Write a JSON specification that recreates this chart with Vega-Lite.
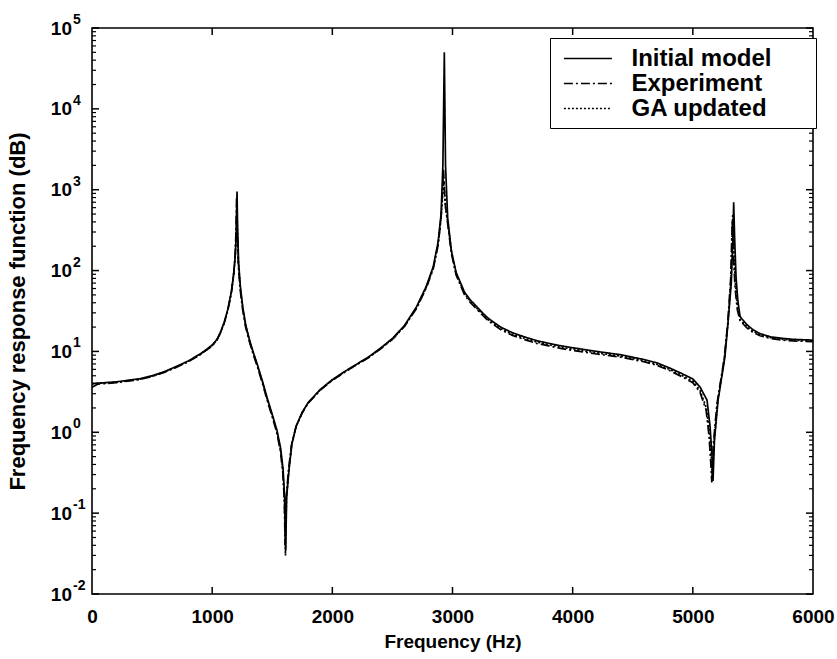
{
"$schema": "https://vega.github.io/schema/vega-lite/v6.json",
"width": 721, "height": 566,
"autosize": {"type": "none"},
"padding": {"left": 92, "top": 28, "right": 24, "bottom": 65},
"config": {"view": {"stroke": "black", "strokeWidth": 1.6}, "font": "Liberation Sans",
  "axis": {"grid": false, "domain": false, "ticks": false, "tickSize": 0, "labelColor": "black", "titleColor": "black", "labelFont": "Liberation Sans", "titleFont": "Liberation Sans", "labelFontWeight": "bold", "titleFontWeight": "bold", "labelFontSize": 19, "titleFontSize": 19, "titleLimit": 1000, "labelOverlap": false}},
"data": {"values": [
{"s":"Initial model","f":0,"v":4.0},{"s":"Initial model","f":200,"v":4.2},{"s":"Initial model","f":400,"v":4.6},{"s":"Initial model","f":500,"v":5.0},{"s":"Initial model","f":600,"v":5.6},{"s":"Initial model","f":700,"v":6.5},{"s":"Initial model","f":800,"v":7.6},{"s":"Initial model","f":900,"v":9.3},{"s":"Initial model","f":950,"v":10.5},{"s":"Initial model","f":1000,"v":12},{"s":"Initial model","f":1040,"v":14.1},{"s":"Initial model","f":1070,"v":17.4},{"s":"Initial model","f":1100,"v":22.9},{"s":"Initial model","f":1130,"v":33},{"s":"Initial model","f":1160,"v":55},{"s":"Initial model","f":1180,"v":93},{"s":"Initial model","f":1193,"v":158},{"s":"Initial model","f":1201,"v":316},{"s":"Initial model","f":1207,"v":950},{"s":"Initial model","f":1212,"v":316},{"s":"Initial model","f":1220,"v":126},{"s":"Initial model","f":1235,"v":63},{"s":"Initial model","f":1255,"v":35},{"s":"Initial model","f":1280,"v":21},{"s":"Initial model","f":1310,"v":14},{"s":"Initial model","f":1340,"v":10},{"s":"Initial model","f":1380,"v":6.6},{"s":"Initial model","f":1420,"v":4.2},{"s":"Initial model","f":1460,"v":2.6},{"s":"Initial model","f":1500,"v":1.66},{"s":"Initial model","f":1540,"v":1.05},{"s":"Initial model","f":1570,"v":0.63},{"s":"Initial model","f":1590,"v":0.35},{"s":"Initial model","f":1603,"v":0.16},{"s":"Initial model","f":1612,"v":0.035},{"s":"Initial model","f":1620,"v":0.16},{"s":"Initial model","f":1640,"v":0.35},{"s":"Initial model","f":1664,"v":0.72},{"s":"Initial model","f":1700,"v":1.2},{"s":"Initial model","f":1750,"v":1.78},{"s":"Initial model","f":1800,"v":2.34},{"s":"Initial model","f":1900,"v":3.39},{"s":"Initial model","f":2000,"v":4.47},{"s":"Initial model","f":2100,"v":5.62},{"s":"Initial model","f":2200,"v":6.92},{"s":"Initial model","f":2300,"v":8.51},{"s":"Initial model","f":2400,"v":10.96},{"s":"Initial model","f":2500,"v":14.45},{"s":"Initial model","f":2600,"v":20.9},{"s":"Initial model","f":2700,"v":35.5},{"s":"Initial model","f":2780,"v":63},{"s":"Initial model","f":2840,"v":112},{"s":"Initial model","f":2880,"v":224},{"s":"Initial model","f":2905,"v":501},{"s":"Initial model","f":2920,"v":2000},{"s":"Initial model","f":2932,"v":50000},{"s":"Initial model","f":2942,"v":2000},{"s":"Initial model","f":2960,"v":447},{"s":"Initial model","f":2990,"v":178},{"s":"Initial model","f":3030,"v":95},{"s":"Initial model","f":3100,"v":54},{"s":"Initial model","f":3150,"v":43},{"s":"Initial model","f":3200,"v":36},{"s":"Initial model","f":3250,"v":30},{"s":"Initial model","f":3300,"v":25.5},{"s":"Initial model","f":3400,"v":20},{"s":"Initial model","f":3500,"v":17},{"s":"Initial model","f":3600,"v":15.1},{"s":"Initial model","f":3700,"v":13.6},{"s":"Initial model","f":3800,"v":12.6},{"s":"Initial model","f":3900,"v":11.75},{"s":"Initial model","f":4000,"v":11.1},{"s":"Initial model","f":4200,"v":10},{"s":"Initial model","f":4400,"v":9.1},{"s":"Initial model","f":4600,"v":7.9},{"s":"Initial model","f":4700,"v":7.24},{"s":"Initial model","f":4800,"v":6.3},{"s":"Initial model","f":4900,"v":5.4},{"s":"Initial model","f":5000,"v":4.57},{"s":"Initial model","f":5060,"v":3.63},{"s":"Initial model","f":5118,"v":2.5},{"s":"Initial model","f":5143,"v":1.2},{"s":"Initial model","f":5160,"v":0.5},{"s":"Initial model","f":5168,"v":0.25},{"s":"Initial model","f":5180,"v":0.8},{"s":"Initial model","f":5210,"v":2.5},{"s":"Initial model","f":5267,"v":8.5},{"s":"Initial model","f":5292,"v":22},{"s":"Initial model","f":5320,"v":70},{"s":"Initial model","f":5333,"v":250},{"s":"Initial model","f":5340,"v":700},{"s":"Initial model","f":5348,"v":250},{"s":"Initial model","f":5360,"v":80},{"s":"Initial model","f":5375,"v":42},{"s":"Initial model","f":5393,"v":27},{"s":"Initial model","f":5450,"v":21.4},{"s":"Initial model","f":5500,"v":18.6},{"s":"Initial model","f":5559,"v":16.6},{"s":"Initial model","f":5650,"v":15.1},{"s":"Initial model","f":5750,"v":14.5},{"s":"Initial model","f":5834,"v":14.1},{"s":"Initial model","f":6000,"v":13.8},
{"s":"Experiment","f":0,"v":3.6},{"s":"Experiment","f":50,"v":3.95},{"s":"Experiment","f":200,"v":4.1},{"s":"Experiment","f":400,"v":4.5},{"s":"Experiment","f":500,"v":4.9},{"s":"Experiment","f":600,"v":5.5},{"s":"Experiment","f":700,"v":6.35},{"s":"Experiment","f":800,"v":7.45},{"s":"Experiment","f":900,"v":9.1},{"s":"Experiment","f":950,"v":10.3},{"s":"Experiment","f":1000,"v":11.7},{"s":"Experiment","f":1040,"v":13.8},{"s":"Experiment","f":1070,"v":17},{"s":"Experiment","f":1100,"v":22.4},{"s":"Experiment","f":1130,"v":32},{"s":"Experiment","f":1160,"v":53},{"s":"Experiment","f":1178,"v":88},{"s":"Experiment","f":1191,"v":150},{"s":"Experiment","f":1198,"v":300},{"s":"Experiment","f":1203,"v":800},{"s":"Experiment","f":1209,"v":300},{"s":"Experiment","f":1217,"v":120},{"s":"Experiment","f":1232,"v":60},{"s":"Experiment","f":1252,"v":34},{"s":"Experiment","f":1277,"v":20.5},{"s":"Experiment","f":1307,"v":13.6},{"s":"Experiment","f":1337,"v":9.7},{"s":"Experiment","f":1377,"v":6.4},{"s":"Experiment","f":1417,"v":4.1},{"s":"Experiment","f":1457,"v":2.5},{"s":"Experiment","f":1497,"v":1.6},{"s":"Experiment","f":1537,"v":1.0},{"s":"Experiment","f":1567,"v":0.6},{"s":"Experiment","f":1587,"v":0.33},{"s":"Experiment","f":1600,"v":0.15},{"s":"Experiment","f":1607,"v":0.04},{"s":"Experiment","f":1615,"v":0.15},{"s":"Experiment","f":1635,"v":0.34},{"s":"Experiment","f":1660,"v":0.7},{"s":"Experiment","f":1697,"v":1.17},{"s":"Experiment","f":1750,"v":1.74},{"s":"Experiment","f":1800,"v":2.3},{"s":"Experiment","f":1900,"v":3.32},{"s":"Experiment","f":2000,"v":4.38},{"s":"Experiment","f":2100,"v":5.5},{"s":"Experiment","f":2200,"v":6.8},{"s":"Experiment","f":2300,"v":8.35},{"s":"Experiment","f":2400,"v":10.7},{"s":"Experiment","f":2500,"v":14.1},{"s":"Experiment","f":2600,"v":20.3},{"s":"Experiment","f":2700,"v":34},{"s":"Experiment","f":2780,"v":60},{"s":"Experiment","f":2840,"v":105},{"s":"Experiment","f":2880,"v":205},{"s":"Experiment","f":2905,"v":440},{"s":"Experiment","f":2925,"v":1800},{"s":"Experiment","f":2938,"v":700},{"s":"Experiment","f":2958,"v":400},{"s":"Experiment","f":2990,"v":165},{"s":"Experiment","f":3030,"v":88},{"s":"Experiment","f":3100,"v":50},{"s":"Experiment","f":3150,"v":40},{"s":"Experiment","f":3200,"v":33.5},{"s":"Experiment","f":3250,"v":28},{"s":"Experiment","f":3300,"v":23.8},{"s":"Experiment","f":3400,"v":18.6},{"s":"Experiment","f":3500,"v":15.8},{"s":"Experiment","f":3600,"v":14.0},{"s":"Experiment","f":3700,"v":12.6},{"s":"Experiment","f":3800,"v":11.7},{"s":"Experiment","f":3900,"v":10.9},{"s":"Experiment","f":4000,"v":10.3},{"s":"Experiment","f":4200,"v":9.3},{"s":"Experiment","f":4400,"v":8.5},{"s":"Experiment","f":4600,"v":7.4},{"s":"Experiment","f":4700,"v":6.75},{"s":"Experiment","f":4800,"v":5.85},{"s":"Experiment","f":4900,"v":4.95},{"s":"Experiment","f":5000,"v":4.1},{"s":"Experiment","f":5060,"v":3.1},{"s":"Experiment","f":5110,"v":1.9},{"s":"Experiment","f":5135,"v":0.9},{"s":"Experiment","f":5150,"v":0.4},{"s":"Experiment","f":5158,"v":0.24},{"s":"Experiment","f":5170,"v":0.7},{"s":"Experiment","f":5200,"v":2.2},{"s":"Experiment","f":5260,"v":8},{"s":"Experiment","f":5290,"v":22},{"s":"Experiment","f":5315,"v":80},{"s":"Experiment","f":5328,"v":420},{"s":"Experiment","f":5338,"v":150},{"s":"Experiment","f":5352,"v":60},{"s":"Experiment","f":5370,"v":33},{"s":"Experiment","f":5393,"v":24},{"s":"Experiment","f":5450,"v":19.5},{"s":"Experiment","f":5500,"v":17.2},{"s":"Experiment","f":5559,"v":15.6},{"s":"Experiment","f":5650,"v":14.4},{"s":"Experiment","f":5750,"v":13.8},{"s":"Experiment","f":5834,"v":13.5},{"s":"Experiment","f":6000,"v":13.2},
{"s":"GA updated","f":0,"v":4.0},{"s":"GA updated","f":200,"v":4.15},{"s":"GA updated","f":400,"v":4.55},{"s":"GA updated","f":500,"v":4.95},{"s":"GA updated","f":600,"v":5.55},{"s":"GA updated","f":700,"v":6.4},{"s":"GA updated","f":800,"v":7.5},{"s":"GA updated","f":900,"v":9.2},{"s":"GA updated","f":950,"v":10.4},{"s":"GA updated","f":1000,"v":11.8},{"s":"GA updated","f":1040,"v":13.9},{"s":"GA updated","f":1070,"v":17.2},{"s":"GA updated","f":1100,"v":22.6},{"s":"GA updated","f":1130,"v":32.5},{"s":"GA updated","f":1160,"v":54},{"s":"GA updated","f":1179,"v":90},{"s":"GA updated","f":1192,"v":152},{"s":"GA updated","f":1200,"v":300},{"s":"GA updated","f":1205,"v":600},{"s":"GA updated","f":1211,"v":300},{"s":"GA updated","f":1219,"v":120},{"s":"GA updated","f":1234,"v":61},{"s":"GA updated","f":1254,"v":34.5},{"s":"GA updated","f":1279,"v":20.7},{"s":"GA updated","f":1309,"v":13.8},{"s":"GA updated","f":1339,"v":9.8},{"s":"GA updated","f":1379,"v":6.5},{"s":"GA updated","f":1419,"v":4.15},{"s":"GA updated","f":1459,"v":2.55},{"s":"GA updated","f":1499,"v":1.62},{"s":"GA updated","f":1539,"v":1.02},{"s":"GA updated","f":1569,"v":0.6},{"s":"GA updated","f":1589,"v":0.33},{"s":"GA updated","f":1602,"v":0.14},{"s":"GA updated","f":1610,"v":0.03},{"s":"GA updated","f":1618,"v":0.15},{"s":"GA updated","f":1638,"v":0.34},{"s":"GA updated","f":1662,"v":0.71},{"s":"GA updated","f":1699,"v":1.18},{"s":"GA updated","f":1750,"v":1.76},{"s":"GA updated","f":1800,"v":2.32},{"s":"GA updated","f":1900,"v":3.35},{"s":"GA updated","f":2000,"v":4.42},{"s":"GA updated","f":2100,"v":5.55},{"s":"GA updated","f":2200,"v":6.85},{"s":"GA updated","f":2300,"v":8.4},{"s":"GA updated","f":2400,"v":10.8},{"s":"GA updated","f":2500,"v":14.2},{"s":"GA updated","f":2600,"v":20.5},{"s":"GA updated","f":2700,"v":34.5},{"s":"GA updated","f":2780,"v":61},{"s":"GA updated","f":2840,"v":108},{"s":"GA updated","f":2880,"v":212},{"s":"GA updated","f":2905,"v":460},{"s":"GA updated","f":2928,"v":1300},{"s":"GA updated","f":2942,"v":600},{"s":"GA updated","f":2962,"v":380},{"s":"GA updated","f":2992,"v":170},{"s":"GA updated","f":3030,"v":91},{"s":"GA updated","f":3100,"v":52},{"s":"GA updated","f":3150,"v":41.5},{"s":"GA updated","f":3200,"v":34.5},{"s":"GA updated","f":3250,"v":29},{"s":"GA updated","f":3300,"v":24.5},{"s":"GA updated","f":3400,"v":19.2},{"s":"GA updated","f":3500,"v":16.3},{"s":"GA updated","f":3600,"v":14.5},{"s":"GA updated","f":3700,"v":13.1},{"s":"GA updated","f":3800,"v":12.1},{"s":"GA updated","f":3900,"v":11.3},{"s":"GA updated","f":4000,"v":10.7},{"s":"GA updated","f":4200,"v":9.6},{"s":"GA updated","f":4400,"v":8.75},{"s":"GA updated","f":4600,"v":7.6},{"s":"GA updated","f":4700,"v":6.95},{"s":"GA updated","f":4800,"v":6.05},{"s":"GA updated","f":4900,"v":5.15},{"s":"GA updated","f":5000,"v":4.3},{"s":"GA updated","f":5060,"v":3.3},{"s":"GA updated","f":5112,"v":2.0},{"s":"GA updated","f":5140,"v":1.0},{"s":"GA updated","f":5155,"v":0.45},{"s":"GA updated","f":5163,"v":0.27},{"s":"GA updated","f":5175,"v":0.7},{"s":"GA updated","f":5205,"v":2.3},{"s":"GA updated","f":5262,"v":8.2},{"s":"GA updated","f":5292,"v":22},{"s":"GA updated","f":5318,"v":80},{"s":"GA updated","f":5332,"v":500},{"s":"GA updated","f":5342,"v":170},{"s":"GA updated","f":5355,"v":65},{"s":"GA updated","f":5372,"v":36},{"s":"GA updated","f":5393,"v":25},{"s":"GA updated","f":5450,"v":20.2},{"s":"GA updated","f":5500,"v":17.8},{"s":"GA updated","f":5559,"v":16},{"s":"GA updated","f":5650,"v":14.8},{"s":"GA updated","f":5750,"v":14.1},{"s":"GA updated","f":5834,"v":13.8},{"s":"GA updated","f":6000,"v":13.5}
]},
"datasets": {
 "xt": [{"t":1000},{"t":2000},{"t":3000},{"t":4000},{"t":5000}],
 "yt": [{"t":0.01},{"t":0.1},{"t":1},{"t":10},{"t":100},{"t":1000},{"t":10000},{"t":100000}],
 "ym": [{"t":0.02},{"t":0.03},{"t":0.04},{"t":0.05},{"t":0.06},{"t":0.07},{"t":0.08},{"t":0.09},{"t":0.2},{"t":0.3},{"t":0.4},{"t":0.5},{"t":0.6},{"t":0.7},{"t":0.8},{"t":0.9},{"t":2},{"t":3},{"t":4},{"t":5},{"t":6},{"t":7},{"t":8},{"t":9},{"t":20},{"t":30},{"t":40},{"t":50},{"t":60},{"t":70},{"t":80},{"t":90},{"t":200},{"t":300},{"t":400},{"t":500},{"t":600},{"t":700},{"t":800},{"t":900},{"t":2000},{"t":3000},{"t":4000},{"t":5000},{"t":6000},{"t":7000},{"t":8000},{"t":9000},{"t":20000},{"t":30000},{"t":40000},{"t":50000},{"t":60000},{"t":70000},{"t":80000},{"t":90000}]
},
"layer": [
 {"mark": {"type": "line", "color": "black", "strokeWidth": 1.7, "clip": true},
  "encoding": {
   "x": {"field": "f", "type": "quantitative", "scale": {"domain": [0, 6000], "nice": false, "zero": false},
     "axis": {"orient": "bottom", "values": [0,1000,2000,3000,4000,5000,6000], "format": "d", "title": "Frequency (Hz)", "labelPadding": 13, "titlePadding": 6.5, "labelFlush": false}},
   "y": {"field": "v", "type": "quantitative", "scale": {"type": "log", "domain": [0.01, 100000], "nice": false},
     "axis": {"orient": "left", "values": [0.01,0.1,1,10,100,1000,10000,100000], "title": "Frequency response function (dB)", "titleFontSize": 22, "labelPadding": 20.5, "titlePadding": 21, "labelExpr": "'10'"}},
   "strokeDash": {"field": "s", "type": "nominal",
     "scale": {"domain": ["Initial model", "Experiment", "GA updated"], "range": [[1,0],[9,3,2,3],[2,2]]},
     "legend": {"orient": "none", "legendX": 458, "legendY": 10, "title": null, "strokeColor": "black", "fillColor": "white", "padding": 7.5, "cornerRadius": 0,
       "labelFontSize": 24, "labelFontWeight": "bold", "labelColor": "black", "labelFont": "Liberation Sans", "labelLimit": 400, "labelOffset": 48,
       "labelExpr": "datum.label + '\u2800\u2800'",
       "symbolType": "M-0.55,0H3.45", "symbolSize": 576, "symbolStrokeWidth": 1.6, "symbolStrokeColor": "black", "rowPadding": -2.5}}
  }},
 {"data": {"name": "xt"},
  "mark": {"type": "tick", "orient": "vertical", "size": 7, "thickness": 1.5, "color": "black", "opacity": 1, "yOffset": -3.5},
  "encoding": {
   "x": {"field": "t", "type": "quantitative", "scale": {"domain": [0, 6000], "nice": false, "zero": false}, "axis": null},
   "y": {"datum": 0.01, "type": "quantitative", "axis": null}
  }},
 {"data": {"name": "xt"},
  "mark": {"type": "tick", "orient": "vertical", "size": 7, "thickness": 1.5, "color": "black", "opacity": 1, "yOffset": 3.5},
  "encoding": {
   "x": {"field": "t", "type": "quantitative", "scale": {"domain": [0, 6000], "nice": false, "zero": false}, "axis": null},
   "y": {"datum": 100000, "type": "quantitative", "axis": null}
  }},
 {"data": {"name": "yt"},
  "mark": {"type": "tick", "orient": "horizontal", "size": 7, "thickness": 1.5, "color": "black", "opacity": 1, "xOffset": 3.5},
  "encoding": {
   "y": {"field": "t", "type": "quantitative", "scale": {"type": "log", "domain": [0.01, 100000], "nice": false},
     "axis": {"orient": "left", "values": [0.01,0.1,1,10,100,1000,10000,100000], "title": null, "labelPadding": 19.5, "labelAlign": "left", "labelFontSize": 14, "labelOffset": -8.5,
       "labelExpr": "datum.value < 0.05 ? '-2' : datum.value < 0.5 ? '-1' : datum.value < 5 ? '0' : datum.value < 50 ? '1' : datum.value < 500 ? '2' : datum.value < 5000 ? '3' : datum.value < 50000 ? '4' : '5'"}},
   "x": {"datum": 0, "type": "quantitative", "axis": null}
  }},
 {"data": {"name": "yt"},
  "mark": {"type": "tick", "orient": "horizontal", "size": 7, "thickness": 1.5, "color": "black", "opacity": 1, "xOffset": -3.5},
  "encoding": {
   "y": {"field": "t", "type": "quantitative", "scale": {"type": "log", "domain": [0.01, 100000], "nice": false}, "axis": null},
   "x": {"datum": 6000, "type": "quantitative", "axis": null}
  }},
 {"data": {"name": "ym"},
  "mark": {"type": "tick", "orient": "horizontal", "size": 4, "thickness": 1.2, "color": "black", "opacity": 1, "xOffset": 2},
  "encoding": {
   "y": {"field": "t", "type": "quantitative", "scale": {"type": "log", "domain": [0.01, 100000], "nice": false}, "axis": null},
   "x": {"datum": 0, "type": "quantitative", "axis": null}
  }},
 {"data": {"name": "ym"},
  "mark": {"type": "tick", "orient": "horizontal", "size": 4, "thickness": 1.2, "color": "black", "opacity": 1, "xOffset": -2},
  "encoding": {
   "y": {"field": "t", "type": "quantitative", "scale": {"type": "log", "domain": [0.01, 100000], "nice": false}, "axis": null},
   "x": {"datum": 6000, "type": "quantitative", "axis": null}
  }}
],
"resolve": {"axis": {"x": "independent", "y": "independent"}}
}
